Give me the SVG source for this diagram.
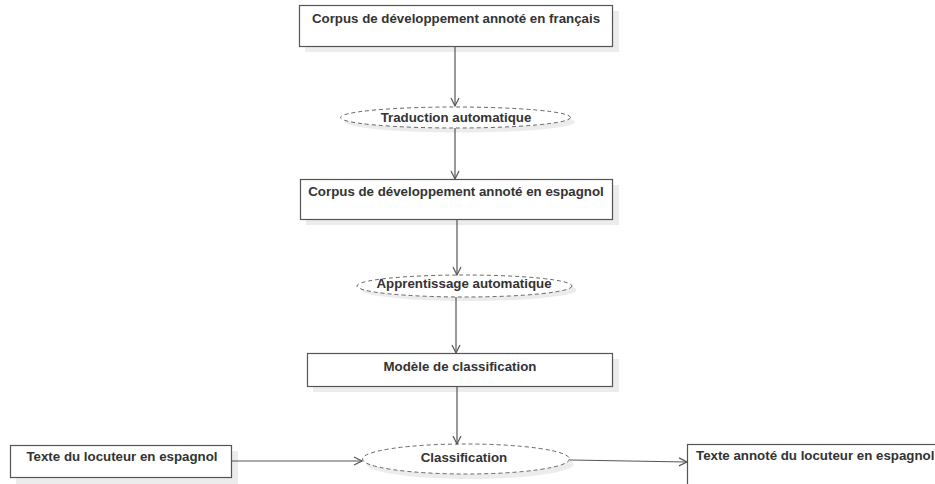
<svg xmlns="http://www.w3.org/2000/svg" width="935" height="484" viewBox="0 0 935 484">
<style>
.box{fill:#fff;stroke:#555;stroke-width:1.2}
.sh{fill:#ececec}
.ell{fill:#fff;stroke:#666;stroke-width:1;stroke-dasharray:4,3}
.t{font-family:"Liberation Sans",Arial,sans-serif;font-size:13.3px;font-weight:bold;fill:#333;text-anchor:middle}
.c{fill:none;stroke:#555;stroke-width:1.2}
</style>
<defs>
<marker id="ah" markerWidth="12" markerHeight="12" refX="9" refY="5" orient="auto" markerUnits="userSpaceOnUse">
<path d="M1,1 L9,5 L1,9" fill="none" stroke="#555" stroke-width="1.2"/>
</marker>
</defs>
<rect width="935" height="484" fill="#fff"/>
<g id="n1">
<rect class="sh" x="305" y="11" width="314" height="41"/>
<rect class="box" x="299.5" y="5.5" width="313" height="41"/>
<text class="t" x="456" y="23">Corpus de développement annoté en français</text>
</g>
<g id="n2">
<ellipse class="sh" cx="460" cy="122" rx="115" ry="10.5"/>
<ellipse class="ell" cx="455.5" cy="117.5" rx="115" ry="10.5"/>
<text class="t" x="456" y="122">Traduction automatique</text>
</g>
<g id="n3">
<rect class="sh" x="306" y="185" width="313" height="40"/>
<rect class="box" x="300.5" y="179.5" width="312" height="40"/>
<text class="t" x="456" y="196">Corpus de développement annoté en espagnol</text>
</g>
<g id="n4">
<ellipse class="sh" cx="469" cy="290" rx="107.5" ry="11"/>
<ellipse class="ell" cx="464.5" cy="286" rx="107.5" ry="11"/>
<text class="t" x="464" y="288">Apprentissage automatique</text>
</g>
<g id="n5">
<rect class="sh" x="313" y="359" width="306" height="33"/>
<rect class="box" x="307.5" y="353.5" width="305" height="33"/>
<text class="t" x="460" y="371">Modèle de classification</text>
</g>
<g id="n6">
<rect class="sh" x="16" y="451" width="222" height="33"/>
<rect class="box" x="10.5" y="445.5" width="221" height="32"/>
<text class="t" x="122" y="461">Texte du locuteur en espagnol</text>
</g>
<g id="n7">
<ellipse class="sh" cx="470" cy="464" rx="103.5" ry="15"/>
<ellipse class="ell" cx="466" cy="459" rx="103.5" ry="15"/>
<text class="t" x="464" y="462">Classification</text>
</g>
<g id="n8">
<rect class="box" x="687.5" y="444.5" width="260" height="60"/>
<text class="t" x="696" y="460" style="text-anchor:start">Texte annoté du locuteur en espagnol</text>
</g>
<g id="connectors">
<line class="c" x1="455" y1="47" x2="455" y2="106" marker-end="url(#ah)"/>
<line class="c" x1="455" y1="128" x2="455" y2="179" marker-end="url(#ah)"/>
<line class="c" x1="457" y1="220" x2="457" y2="275" marker-end="url(#ah)"/>
<line class="c" x1="456" y1="297" x2="456" y2="353" marker-end="url(#ah)"/>
<line class="c" x1="457" y1="387" x2="457" y2="444" marker-end="url(#ah)"/>
<line class="c" x1="232" y1="461" x2="362" y2="461" marker-end="url(#ah)"/>
<line class="c" x1="570" y1="460" x2="687" y2="462" marker-end="url(#ah)"/>
</g>
</svg>
